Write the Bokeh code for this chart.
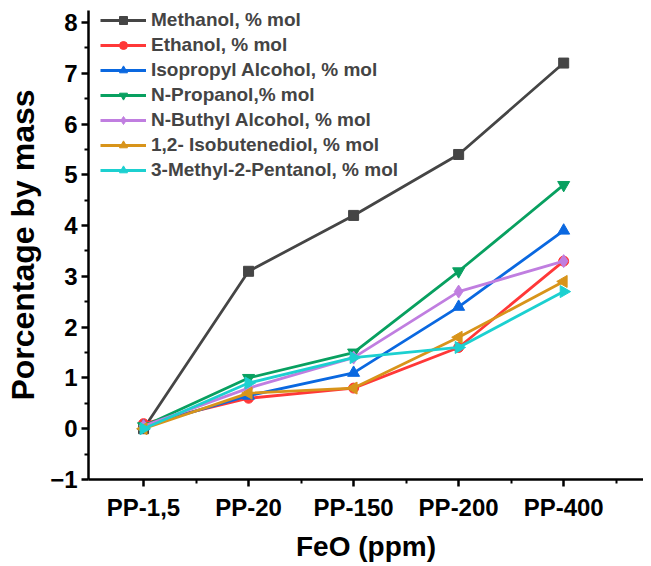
import numpy as np
from bokeh.plotting import figure
from bokeh.models import Range1d, FixedTicker, Legend, LegendItem
from bokeh.embed import file_html
from bokeh.resources import INLINE

categories = ["PP-1,5", "PP-20", "PP-150", "PP-200", "PP-400"]
methanol = [0.0, 3.1, 4.2, 5.4, 7.2]
ethanol = [0.1, 0.6, 0.8, 1.6, 3.3]
isopropyl = [0.05, 0.65, 1.1, 2.4, 3.9]
npropanol = [0.05, 1.0, 1.5, 3.1, 4.8]
nbutyl = [0.05, 0.8, 1.4, 2.7, 3.3]
isobutenediol = [0.0, 0.7, 0.8, 1.8, 2.9]
methylpentanol = [0.0, 0.9, 1.4, 1.6, 2.7]

series = [
    ("Methanol, % mol", methanol, "#454545", "square", 0.0, 10),
    ("Ethanol, % mol", ethanol, "#ff3838", "circle", 0.0, 10),
    ("Isopropyl Alcohol, % mol", isopropyl, "#0a68e0", "triangle", 0.0, 12),
    ("N-Propanol,% mol", npropanol, "#08a060", "inverted_triangle", 0.0, 12),
    ("N-Buthyl Alcohol, % mol", nbutyl, "#c07ee0", "diamond", 0.0, 13),
    ("1,2- Isobutenediol, % mol", isobutenediol, "#d8941a", "triangle", np.pi / 2, 12),
    ("3-Methyl-2-Pentanol, % mol", methylpentanol, "#1cd0d0", "triangle", -np.pi / 2, 12),
]

x = list(range(len(categories)))

p = figure(width=643, height=564, output_backend="svg", toolbar_location=None,
           x_range=Range1d(-0.524, 4.76), y_range=Range1d(-1, 8.235),
           min_border_left=88, min_border_top=10, min_border_bottom=83, min_border_right=0)
p.outline_line_color = None
p.xgrid.visible = False
p.ygrid.visible = False

items = []
for name, vals, color, marker, ang, sz in series:
    r1 = p.line(x, vals, line_color=color, line_width=2.8)
    r2 = p.scatter(x, vals, marker=marker, size=sz, angle=ang,
                   fill_color=color, line_color=color)
    items.append(LegendItem(label=name, renderers=[r1, r2]))

legend = Legend(items=items, location=(12, 298), border_line_color=None,
                background_fill_alpha=0, padding=0, margin=0, spacing=3,
                glyph_width=46, glyph_height=20, label_height=20,
                label_text_font="Liberation Sans", label_text_font_style="bold",
                label_text_font_size="19px", label_standoff=5)
p.add_layout(legend, "center")

p.xaxis.ticker = FixedTicker(ticks=x, minor_ticks=[0.5, 1.5, 2.5, 3.5, 4.5])
p.xaxis.major_label_overrides = {i: c for i, c in enumerate(categories)}
p.yaxis.ticker = FixedTicker(ticks=list(range(-1, 9)),
                             minor_ticks=[v + 0.5 for v in range(-1, 8)])

for ax in (p.xaxis[0], p.yaxis[0]):
    ax.axis_line_width = 2.5
    ax.axis_line_color = "black"
    ax.major_tick_line_width = 2.5
    ax.minor_tick_line_width = 2
    ax.major_tick_out = 7
    ax.major_tick_in = 0
    ax.minor_tick_out = 4
    ax.minor_tick_in = 0
    ax.major_label_text_font = "Liberation Sans"
    ax.major_label_text_font_style = "bold"
    ax.major_label_text_font_size = "24px"
    ax.major_label_text_color = "black"
    ax.axis_label_text_font = "Liberation Sans"
    ax.axis_label_text_font_style = "bold"
    ax.axis_label_text_color = "black"

p.xaxis.axis_label_text_font_size = "28px"
p.yaxis.axis_label_text_font_size = "32px"
p.xaxis.axis_label = "FeO (ppm)"
p.yaxis.axis_label = "Porcentage by mass"
p.xaxis.major_label_standoff = 7
p.xaxis.axis_label_standoff = 7
p.yaxis.major_label_standoff = 4
p.yaxis.axis_label_standoff = 6

open("out.html", "w").write(file_html(p, INLINE))
